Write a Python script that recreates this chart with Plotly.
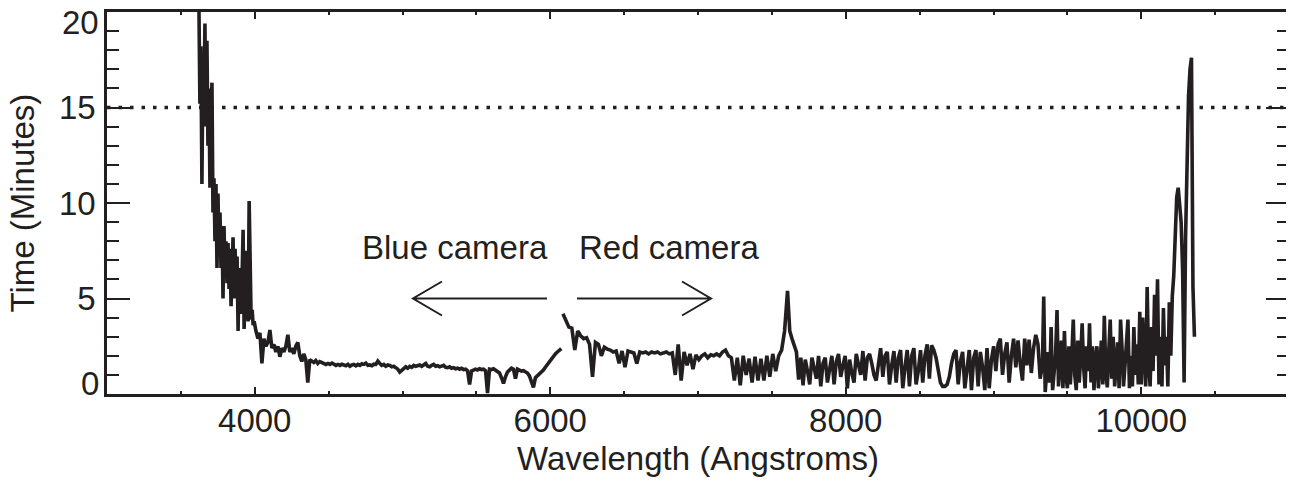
import numpy as np
import plotly.graph_objects as go

INK = "#231f20"
FONT = "Liberation Sans, Arial, Helvetica, sans-serif"

# ---- data: exposure time (minutes) vs wavelength (Angstroms) ----
# each segment is sampled on a regular wavelength grid (start, step)
blue_a_start, blue_a_step = 3622.0, 6.8
blue_a_time = [20.5, 15.2, 18.2, 11.0, 17.0, 15.0, 19.4, 14.0, 18.5, 13.0,
               16.0, 10.8, 14.5, 16.3, 9.5, 11.3, 8.0, 11.0, 6.6, 10.5,
               7.2, 9.5, 6.6, 8.8, 5.0, 8.8, 6.2, 8.0, 5.8, 7.9,
               5.5, 7.6, 4.6, 7.0, 8.2, 5.0, 7.6, 6.0, 7.2, 3.3,
               6.6, 5.0, 4.2, 6.2, 8.6, 3.4, 5.5, 7.5, 4.6, 3.8,
               10.1, 4.5, 3.9, 4.4, 3.6, 3.8, 3.4]

blue_b_start, blue_b_step = 4008.0, 13.5
blue_b_time = [3.3, 2.9, 3.2, 1.6, 2.9, 2.5, 2.7, 3.35, 2.4, 2.6,
               2.2, 2.5, 1.95, 2.4, 2.2, 2.5, 3.1, 2.2, 2.4, 2.1,
               2.5, 2.7, 2.0, 1.7, 2.1, 1.8, 0.6, 1.8, 1.75, 1.65,
               1.75, 1.6, 1.7]

blue_c_start, blue_c_step = 4455.0, 13.5
blue_c_time = [1.65, 1.6, 1.55, 1.6, 1.55, 1.62, 1.58, 1.5, 1.55, 1.5,
               1.56, 1.52, 1.48, 1.55, 1.45, 1.52, 1.55, 1.48, 1.55, 1.5,
               1.58, 1.55, 1.62, 1.5, 1.52, 1.48, 1.56, 1.55, 1.72, 1.6,
               1.5, 1.55, 1.45, 1.52, 1.5, 1.42, 1.45, 1.38, 1.3, 1.15,
               1.25, 1.38, 1.42, 1.35, 1.45, 1.4, 1.5, 1.45, 1.48, 1.52,
               1.45, 1.55, 1.6, 1.45, 1.42, 1.5, 1.55, 1.45, 1.48, 1.42,
               1.45, 1.5, 1.4, 1.38, 1.42, 1.35, 1.38, 1.32, 1.35, 1.3,
               1.35, 1.28, 1.3, 1.22, 0.5, 1.2, 1.25, 1.3, 1.26, 1.32,
               1.28, 1.3, 1.22, 0.05, 1.3, 1.28, 1.32, 1.25, 1.2, 1.1,
               0.85, 0.55, 0.9, 1.15, 1.25, 1.35, 1.3, 0.8, 1.3, 1.25,
               1.2, 1.22, 1.15, 1.1, 0.95, 0.6, 0.35, 0.85, 0.95, 1.0,
               1.1, 1.25, 1.4, 1.55, 1.7, 1.85, 1.98, 2.1, 2.2, 2.3, 2.38]

red_a_start, red_a_step = 6086.0, 20.0
red_a_time = [4.2, 3.8, 3.5, 3.45, 2.3, 3.3, 3.05, 2.9, 2.95, 2.6,
              0.9, 2.7, 2.6, 2.0, 2.45, 2.35, 2.3, 2.2, 2.25, 1.6,
              2.25, 1.4, 2.25, 2.2, 2.15, 1.6, 2.2, 2.15, 2.2, 2.1,
              2.2, 2.15, 2.2, 2.1, 2.15, 2.2, 2.1, 2.15, 1.0, 2.6,
              0.7, 2.2, 1.5, 2.1, 1.3, 2.05, 1.8, 2.0, 2.1, 1.9,
              2.05, 2.0, 2.1, 2.0, 2.2, 2.3, 2.0, 1.9, 0.7, 1.9,
              0.45, 2.0, 1.0, 1.85, 0.6, 1.95, 0.7, 1.85, 0.7, 2.0,
              0.9, 2.1, 1.2, 2.0, 2.3, 3.3]

red_b_start, red_b_step = 7606.0, 15.0
red_b_time = [5.4, 3.3, 2.9, 2.5, 2.2, 0.75, 1.9, 0.45, 1.8, 1.2,
              0.5, 1.9, 1.4, 0.8, 2.0, 0.4, 1.6, 1.9, 0.6, 1.3,
              2.0, 0.5, 1.7, 2.1, 0.9, 1.5, 2.0, 0.3, 1.8, 1.1,
              0.6, 2.1, 1.6, 1.0, 2.25, 0.7, 1.9, 2.1, 1.6, 1.0,
              0.7, 1.6, 2.4, 0.9, 2.0, 2.2, 0.5, 1.5, 2.25, 0.6,
              1.9, 2.3, 0.3, 1.4, 2.3, 0.4, 2.0, 2.4, 0.5, 1.2,
              2.3, 0.6, 2.0, 2.6, 0.8, 2.55, 2.3, 1.9, 1.2, 0.6,
              0.4, 0.4, 0.5, 0.9, 1.6, 2.1, 2.3, 0.5, 1.7, 2.2,
              0.3, 1.5, 2.3, 0.2, 1.9, 2.3, 0.4, 2.2, 1.4, 0.2,
              2.4, 0.3, 1.8, 2.5, 1.2, 2.6, 2.9, 1.0, 2.1, 2.7,
              0.6, 2.0, 2.9, 1.4, 2.8, 1.6, 0.7, 2.9, 1.5, 2.85,
              1.1, 2.4, 3.1, 2.6, 0.8, 1.5]

red_c_start, red_c_step = 9340.0, 10.0
red_c_time = [5.1, 0.1, 1.5, 2.2, 0.6, 3.5, 0.2, 1.2, 2.0, 4.4,
              0.4, 1.6, 2.8, 0.3, 3.3, 1.0, 0.3, 2.5, 0.5, 2.0,
              3.9, 1.0, 0.2, 2.8, 0.6, 1.9, 3.7, 1.4, 0.3, 2.5,
              1.2, 3.7, 0.6, 2.5, 0.2, 1.8, 2.5, 0.3, 1.5, 2.8,
              0.5, 4.1, 1.2, 0.35, 2.2, 3.9, 0.8, 3.0, 0.4, 1.8,
              2.7, 0.3, 3.9, 2.4, 0.4, 1.5, 3.0, 3.9, 0.3, 2.0,
              0.4, 3.5, 1.0, 2.6, 0.5, 4.3, 0.5, 4.0, 2.2, 0.4,
              5.6, 1.5, 0.4, 3.5, 1.2, 5.2, 2.0, 6.0, 0.5, 3.0,
              0.4, 4.5, 1.5, 3.0, 0.4, 4.8, 2.0, 5.1, 6.2, 8.0,
              10.3, 10.8, 10.0, 9.0, 6.5, 0.6, 8.2, 12.0, 15.6, 17.0,
              17.6, 5.6, 3.0]

limit_time = 15.0
x_range = [3000, 11000]
y_range = [0, 20]
x_tick_vals = [4000, 6000, 8000, 10000]
y_tick_vals = [0, 5, 10, 15, 20]
x_title = "Wavelength (Angstroms)"
y_title = "Time (Minutes)"
blue_label = "Blue camera"
red_label = "Red camera"


def grid(start, step, values):
    return start + step * np.arange(len(values))


blue_wl = np.concatenate([grid(blue_a_start, blue_a_step, blue_a_time),
                          grid(blue_b_start, blue_b_step, blue_b_time),
                          grid(blue_c_start, blue_c_step, blue_c_time)])
blue_t = blue_a_time + blue_b_time + blue_c_time
red_wl = np.concatenate([grid(red_a_start, red_a_step, red_a_time),
                         grid(red_b_start, red_b_step, red_b_time),
                         grid(red_c_start, red_c_step, red_c_time)])
red_t = red_a_time + red_b_time + red_c_time

fig = go.Figure()
for wl, t in [(blue_wl, blue_t), (red_wl, red_t)]:
    fig.add_trace(go.Scatter(x=wl, y=t, mode="lines",
                             line=dict(color=INK, width=3.6),
                             hoverinfo="skip", showlegend=False))

# dotted 15-minute limit
fig.add_shape(type="line", xref="paper", x0=0, x1=1, yref="y",
              y0=limit_time, y1=limit_time, layer="below",
              line=dict(color=INK, width=3.5, dash="3.5px,8px"))

# arrows
ah_dx, ah_dy = 196, 0.89
arrows = [(5978, 5071, 5.0), (6181, 7088, 5.0)]
for tail, tip, yy in arrows:
    sgn = 1 if tip < tail else -1
    path = (f"M {tail},{yy} L {tip},{yy} "
            f"M {tip + sgn * ah_dx},{yy + ah_dy} L {tip},{yy} L {tip + sgn * ah_dx},{yy - ah_dy}")
    fig.add_shape(type="path", path=path, xref="x", yref="y",
                  line=dict(color=INK, width=2))

tf = dict(family=FONT, size=33, color=INK)
annotations = [
    dict(text=blue_label, x=6000, y=7.65, xref="x", yref="y",
         xanchor="right", yanchor="middle", showarrow=False, font=tf),
    dict(text=red_label, x=6181, y=7.65, xref="x", yref="y",
         xanchor="left", yanchor="middle", showarrow=False, font=tf),
    dict(text=x_title, x=0.5, y=-0.1676, xref="paper", yref="paper",
         xanchor="center", yanchor="middle", showarrow=False, font=tf),
    dict(text=y_title, x=-0.0723, y=0.5, xref="paper", yref="paper",
         xanchor="center", yanchor="middle", textangle=-90, showarrow=False, font=tf),
    dict(text=str(y_tick_vals[0]), x=0, y=y_tick_vals[0], xref="paper", yref="y",
         xanchor="right", yanchor="middle", xshift=-6, yshift=11, showarrow=False, font=tf),
    dict(text=str(y_tick_vals[-1]), x=0, y=y_tick_vals[-1], xref="paper", yref="y",
         xanchor="right", yanchor="middle", xshift=-6, yshift=-10, showarrow=False, font=tf),
]

# the page body adds an 8px offset, so the figure is 8px smaller than the window
fig.update_layout(
    width=1286, height=473,
    margin=dict(l=99, r=5, t=4, b=87),
    paper_bgcolor="white", plot_bgcolor="white",
    font=tf,
    annotations=annotations,
    xaxis=dict(range=x_range, tickmode="array", tickvals=x_tick_vals,
               ticktext=[str(v) for v in x_tick_vals],
               ticks="inside", ticklen=7, tickwidth=2, tickcolor=INK,
               showline=True, linewidth=2.5, linecolor=INK, mirror="allticks",
               showgrid=False, zeroline=False, tickfont=tf, ticklabelstandoff=-4,
               automargin=False,
               minor=dict(dtick=500, tick0=3000, ticks="inside", ticklen=3.5,
                          tickwidth=2, tickcolor=INK, showgrid=False)),
    yaxis=dict(range=y_range, tickmode="array", tickvals=y_tick_vals,
               ticktext=[""] + [str(v) for v in y_tick_vals[1:-1]] + [""],
               ticks="inside", ticklen=23, tickwidth=2, tickcolor=INK,
               showline=True, linewidth=2.5, linecolor=INK, mirror="allticks",
               showgrid=False, zeroline=False, tickfont=tf, ticklabelstandoff=2,
               automargin=False,
               minor=dict(dtick=1, tick0=0, ticks="inside", ticklen=12,
                          tickwidth=2, tickcolor=INK, showgrid=False)),
)

fig.write_html("out.html")
